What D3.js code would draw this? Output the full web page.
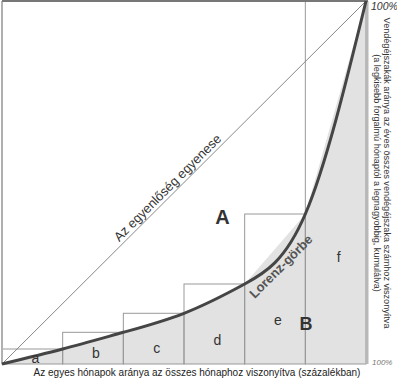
<html>
<head>
    <script src="https://cdn.jsdelivr.net/npm/d3@7"></script>
</head>
<body style="margin:0; background:#fff;">

<div id="chart"></div>

<script>

// months ordered from the smallest to the largest, cumulative share of guest nights
var months = ["a", "b", "c", "d", "e", "f"];
var cumShare = [0.0413, 0.0873, 0.1397, 0.2204, 0.4132, 1.0];
// where the month letters sit (in share units)
var letterLevel = [0.003, 0.017, 0.030, 0.053, 0.107, 0.280];
var xTitle = "Az egyes hónapok aránya az összes hónaphoz viszonyítva (százalékban)";
var yTitle = ["Vendégéjszakák aránya az éves összes vendégéjszaka számhoz viszonyítva",
              "(a legkisebb forgalmú hónaptól a legnagyobbig, kumulálva)"];

var width = 397, height = 380;
var plot = {left: 2, right: 366, top: 1, bottom: 364};

var svg = d3.select("#chart")
    .append("svg")
    .attr("width", width)
    .attr("height", height)
    .style("font-family", "'Liberation Sans', Arial, sans-serif");

var x = d3.scaleLinear().domain([0, 1]).range([plot.left, plot.right]);
var y = d3.scaleLinear().domain([0, 1]).range([plot.bottom, plot.top]);

var step = 1 / months.length;
var points = [[0, 0]].concat(cumShare.map(function(v, i) { return [(i + 1) * step, v]; }));

// grey area under the (straight) lorenz polygon
svg.append("path")
    .datum(points.concat([[1, 0]]))
    .attr("d", d3.line().x(function(d) { return x(d[0]); }).y(function(d) { return y(d[1]); }))
    .attr("fill", "#e2e2e2")
    .attr("stroke", "none");

// month columns
svg.append("g")
    .selectAll("rect")
    .data(cumShare)
    .enter()
    .append("rect")
    .attr("x", function(d, i) { return x(i * step); })
    .attr("y", function(d) { return y(d); })
    .attr("width", x(step) - x(0))
    .attr("height", function(d) { return y(0) - y(d); })
    .attr("fill", "none")
    .attr("stroke", "#999")
    .attr("stroke-width", 1);

// frame
svg.append("line")
    .attr("x1", x(0)).attr("x2", x(0)).attr("y1", y(1)).attr("y2", y(0))
    .attr("stroke", "#b0b0b0").attr("stroke-width", 2);
svg.append("line")
    .attr("x1", x(1) + 1).attr("x2", x(1) + 1).attr("y1", y(1)).attr("y2", y(0))
    .attr("stroke", "#b8b8b8").attr("stroke-width", 3);
svg.append("line")
    .attr("x1", x(0)).attr("x2", x(1) + 2).attr("y1", y(1)).attr("y2", y(1))
    .attr("stroke", "#777").attr("stroke-width", 2);

// line of equality
svg.append("line")
    .attr("x1", x(0)).attr("y1", y(0))
    .attr("x2", x(1)).attr("y2", y(1))
    .attr("stroke", "#888")
    .attr("stroke-width", 1);

// smooth lorenz curve
svg.append("path")
    .datum(points)
    .attr("d", d3.line()
        .x(function(d) { return x(d[0]); })
        .y(function(d) { return y(d[1]); })
        .curve(d3.curveNatural))
    .attr("fill", "none")
    .attr("stroke", "#454545")
    .attr("stroke-width", 3);

var angle = Math.atan2(y(1) - y(0), x(1) - x(0)) * 180 / Math.PI;

svg.append("text")
    .attr("transform", "translate(" + x(0.47) + "," + y(0.47) + ") rotate(" + angle + ")")
    .attr("dy", -3.5)
    .attr("text-anchor", "middle")
    .style("font-size", "13px")
    .style("fill", "#333")
    .text("Az egyenlőség egyenese");

svg.append("text")
    .attr("transform", "translate(" + x(0.775) + "," + y(0.26) + ") rotate(-45)")
    .attr("text-anchor", "middle")
    .style("font-size", "13px")
    .style("font-weight", "bold")
    .style("fill", "#555")
    .text("Lorenz-görbe");

svg.append("text")
    .attr("x", x(0.606)).attr("y", y(0.386))
    .attr("text-anchor", "middle")
    .style("font-size", "20px")
    .style("font-weight", "bold")
    .style("fill", "#333")
    .text("A");

svg.append("text")
    .attr("x", x(0.835)).attr("y", y(0.094))
    .attr("text-anchor", "middle")
    .style("font-size", "18px")
    .style("font-weight", "bold")
    .style("fill", "#333")
    .text("B");

// month letters
svg.append("g")
    .selectAll("text")
    .data(months)
    .enter()
    .append("text")
    .attr("x", function(d, i) { return x((i + 0.5) * step) + 3; })
    .attr("y", function(d, i) { return y(letterLevel[i]); })
    .attr("text-anchor", "middle")
    .style("font-size", "14px")
    .style("fill", "#333")
    .text(function(d) { return d; });

// axis titles
svg.append("text")
    .attr("x", 197).attr("y", 376)
    .attr("text-anchor", "middle")
    .style("font-size", "10px")
    .style("fill", "#222")
    .text(xTitle);

svg.selectAll(".ytitle")
    .data(yTitle)
    .enter()
    .append("text")
    .attr("class", "ytitle")
    .attr("transform", function(d, i) { return "translate(" + (383.5 - i * 10) + ",173) rotate(90)"; })
    .attr("text-anchor", "middle")
    .style("font-size", "9.1px")
    .style("fill", "#333")
    .text(function(d) { return d; });

svg.append("text")
    .attr("x", 371).attr("y", 10)
    .style("font-size", "10.5px")
    .style("font-style", "italic")
    .style("fill", "#333")
    .text("100%");

svg.append("text")
    .attr("x", 372).attr("y", 365)
    .style("font-size", "8px")
    .style("font-style", "italic")
    .style("fill", "#777")
    .text("100%");

</script>

</body>
</html>
